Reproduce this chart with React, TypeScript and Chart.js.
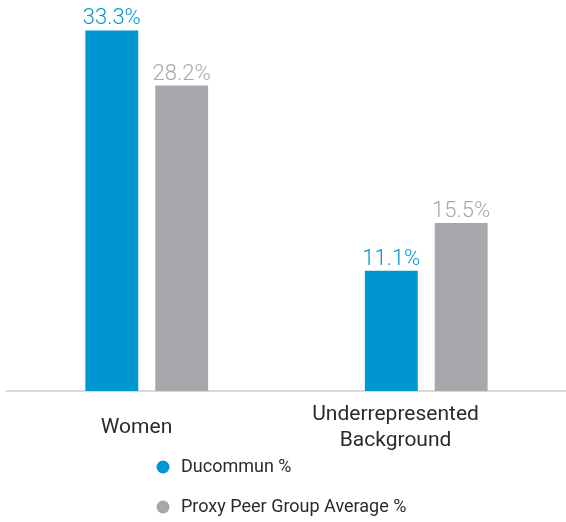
import React, { useEffect, useRef } from "react";
import { Chart, registerables } from "chart.js";

Chart.register(...registerables);

const categories: (string | string[])[] = ["Women", ["Underrepresented", "Background"]];
const seriesNames = ["Ducommun %", "Proxy Peer Group Average %"];
const ducommun = [33.3, 11.1];
const peerAverage = [28.2, 15.5];
const seriesColors = ["#0096D1", "#A7A8AB"];
const FONT = "Roboto, 'Noto Sans', sans-serif";

const valueLabels = {
  id: "valueLabels",
  afterDatasetsDraw(chart: any) {
    const ctx = chart.ctx;
    ctx.save();
    ctx.font = `300 22px ${FONT}`;
    ctx.textAlign = "center";
    ctx.textBaseline = "alphabetic";
    chart.data.datasets.forEach((ds: any, di: number) => {
      const meta = chart.getDatasetMeta(di);
      meta.data.forEach((bar: any, i: number) => {
        ctx.fillStyle = ds.backgroundColor;
        ctx.fillText(`${ds.data[i].toFixed(1)}%`, bar.x, bar.y - 6);
      });
    });
    ctx.restore();
  },
};

const stackedLegend = {
  id: "stackedLegend",
  afterDraw(chart: any) {
    const ctx = chart.ctx;
    ctx.save();
    ctx.font = `400 18px ${FONT}`;
    ctx.textBaseline = "middle";
    ctx.textAlign = "left";
    const x = chart.width / 2 - 120;
    chart.data.datasets.forEach((ds: any, di: number) => {
      const y = chart.height - 55 + di * 40;
      ctx.beginPath();
      ctx.arc(x, y, 6.5, 0, Math.PI * 2);
      ctx.fillStyle = ds.backgroundColor;
      ctx.fill();
      ctx.fillStyle = "#2b2b2b";
      ctx.fillText(ds.label, x + 18, y);
    });
    ctx.restore();
  },
};

export default function App() {
  const ref = useRef<HTMLCanvasElement>(null);
  useEffect(() => {
    if (!ref.current) return;
    const chart = new Chart(ref.current, {
      type: "bar",
      data: {
        labels: categories,
        datasets: [
          { label: seriesNames[0], data: ducommun, backgroundColor: seriesColors[0] },
          { label: seriesNames[1], data: peerAverage, backgroundColor: seriesColors[1] },
        ],
      },
      options: {
        animation: false,
        responsive: true,
        maintainAspectRatio: false,
        layout: { padding: { top: 12, left: 7, right: 0, bottom: 31 } },
        datasets: { bar: { categoryPercentage: 0.5, barPercentage: 0.757 } } as any,
        plugins: { legend: { display: false }, tooltip: { enabled: false } },
        scales: {
          y: { display: false, min: 0, max: 35 },
          x: {
            grid: { display: false, drawTicks: false },
            border: { display: true, color: "#d9d9d9", width: 2 },
            ticks: { display: false },
          },
          xLabels: {
            type: "linear",
            position: "bottom",
            offset: false,
            min: -0.5,
            max: 1.658,
            grid: { display: false, drawTicks: false, offset: false },
            border: { display: false },
            afterBuildTicks: (s: any) => {
              s.ticks = categories.map((_, i) => ({ value: i }));
            },
            ticks: {
              color: "#2b2b2b",
              padding: 24,
              crossAlign: "center",
              autoSkip: false,
              maxRotation: 0,
              callback: (v: any) => categories[v as number],
              font: { family: FONT, size: 21, lineHeight: 1.24 },
            },
          } as any,
        },
      },
      plugins: [valueLabels, stackedLegend],
    });
    return () => chart.destroy();
  }, []);
  return (
    <div style={{ position: "fixed", left: 0, top: 0, width: 566, height: 522 }}>
      <canvas ref={ref} />
    </div>
  );
}
